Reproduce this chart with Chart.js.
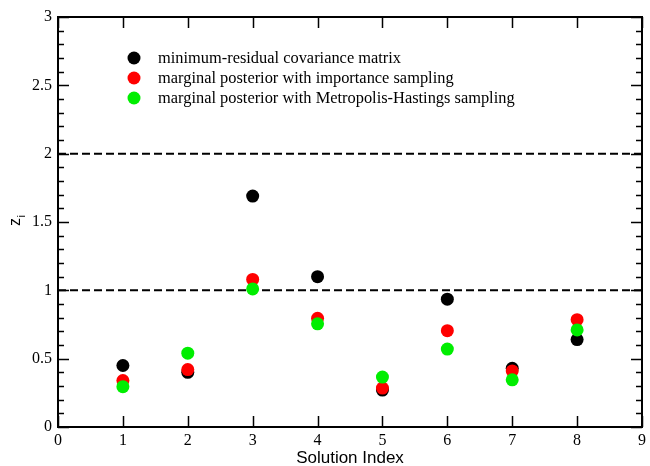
<!DOCTYPE html>
<html>
<head>
<meta charset="utf-8">
<script src="https://cdn.jsdelivr.net/npm/chart.js@4.4.1/dist/chart.umd.min.js"></script>
<style>
  html, body { margin: 0; padding: 0; background: #fff; }
  #wrap { width: 650px; height: 466px; position: relative; }
</style>
</head>
<body>
<div id="wrap"><canvas id="c" width="650" height="466"></canvas></div>
<script>
// ---- data ----
const solutionIndex = [1, 2, 3, 4, 5, 6, 7, 8];
const minResidual  = [0.45, 0.40, 1.69, 1.10, 0.27, 0.935, 0.43, 0.64];
const importance   = [0.34, 0.42, 1.08, 0.795, 0.285, 0.705, 0.41, 0.785];
const metropolis   = [0.295, 0.54, 1.01, 0.755, 0.365, 0.57, 0.345, 0.71];
const seriesLabels = [
  'minimum-residual covariance matrix',
  'marginal posterior with importance sampling',
  'marginal posterior with Metropolis-Hastings sampling'
];
const refLines = [1, 2];
const xRange = [0, 9];
const yRange = [0, 3];
const xTitle = 'Solution Index';

const colors = ['#000000', '#ff0000', '#00ee00'];
const toPts = vals => solutionIndex.map((x, i) => ({ x: x, y: vals[i] }));

const pointSets = [minResidual, importance, metropolis].map((vals, k) => ({
  type: 'scatter',
  label: seriesLabels[k],
  data: toPts(vals),
  backgroundColor: colors[k],
  borderWidth: 0,
  pointRadius: 6.5,
  pointHoverRadius: 6.5,
  order: 2 - k
}));

const lineSets = refLines.map(v => ({
  type: 'line',
  label: 'ref ' + v,
  data: [{ x: xRange[0], y: v }, { x: xRange[1], y: v }],
  borderColor: '#000',
  borderWidth: 2,
  borderDash: [8, 4],
  pointRadius: 0,
  fill: false,
  order: 10
}));

const framePlugin = {
  id: 'frame',
  afterDraw(chart) {
    const ctx = chart.ctx;
    const a = chart.chartArea;
    const xs = chart.scales.x, ys = chart.scales.y;
    ctx.save();
    ctx.strokeStyle = '#000';
    // ticks
    ctx.lineWidth = 1.5;
    ctx.beginPath();
    for (let v = xRange[0]; v <= xRange[1]; v++) {
      const px = Math.round(xs.getPixelForValue(v)) + 0.5;
      ctx.moveTo(px, a.bottom); ctx.lineTo(px, a.bottom - 11);
      ctx.moveTo(px, a.top); ctx.lineTo(px, a.top + 11);
    }
    for (let i = 0; i <= 30; i++) {
      const v = i / 10;
      const py = Math.round(ys.getPixelForValue(v)) + 0.5;
      const len = (i % 5 === 0) ? 11 : 6;
      ctx.moveTo(a.left, py); ctx.lineTo(a.left + len, py);
      ctx.moveTo(a.right, py); ctx.lineTo(a.right - len, py);
    }
    ctx.stroke();
    // frame
    ctx.lineWidth = 2;
    ctx.strokeRect(a.left, a.top, a.right - a.left, a.bottom - a.top);

    // y title z_i
    ctx.fillStyle = '#000';
    ctx.translate(20, 226);
    ctx.rotate(-Math.PI / 2);
    ctx.textBaseline = 'alphabetic';
    ctx.textAlign = 'left';
    ctx.font = '16px "Liberation Sans", Arial, sans-serif';
    ctx.fillText('z', 0, 0);
    const w = ctx.measureText('z').width;
    ctx.font = '11px "Liberation Sans", Arial, sans-serif';
    ctx.fillText('i', w + 0.5, 5);
    ctx.restore();

    // legend
    ctx.save();
    const rows = [58, 78, 98];
    ctx.font = '16.4px "Liberation Serif", "Times New Roman", serif';
    ctx.textBaseline = 'middle';
    ctx.textAlign = 'left';
    seriesLabels.forEach((lab, k) => {
      ctx.fillStyle = colors[k];
      ctx.beginPath();
      ctx.arc(134, rows[k], 6.5, 0, Math.PI * 2);
      ctx.fill();
      ctx.fillStyle = '#000';
      ctx.fillText(lab, 158, rows[k] + 1);
    });
    ctx.restore();
  }
};

const serifTick = { family: '"Liberation Serif", "Times New Roman", serif', size: 16 };

new Chart(document.getElementById('c'), {
  data: { datasets: [...pointSets, ...lineSets] },
  options: {
    responsive: false,
    animation: false,
    devicePixelRatio: 1,
    layout: { padding: { top: 17, right: 5, left: 0, bottom: 0 } },
    plugins: { legend: { display: false }, tooltip: { enabled: false } },
    scales: {
      x: {
        type: 'linear',
        min: xRange[0], max: xRange[1],
        grid: { display: false, drawTicks: false },
        border: { display: false },
        ticks: { stepSize: 1, padding: 4, color: '#000', font: serifTick },
        title: {
          display: true, text: xTitle, color: '#000', padding: { top: 0, bottom: -3 },
          font: { family: '"Liberation Sans", Arial, sans-serif', size: 17 }
        },
        afterFit(s) { s.height = 39; }
      },
      y: {
        type: 'linear',
        min: yRange[0], max: yRange[1],
        grid: { display: false, drawTicks: false },
        border: { display: false },
        ticks: {
          stepSize: 0.5, padding: 6, color: '#000', font: serifTick,
          callback: v => String(Math.round(v * 10) / 10)
        },
        afterFit(s) { s.width = 58; }
      }
    }
  },
  plugins: [framePlugin]
});
</script>
</body>
</html>
